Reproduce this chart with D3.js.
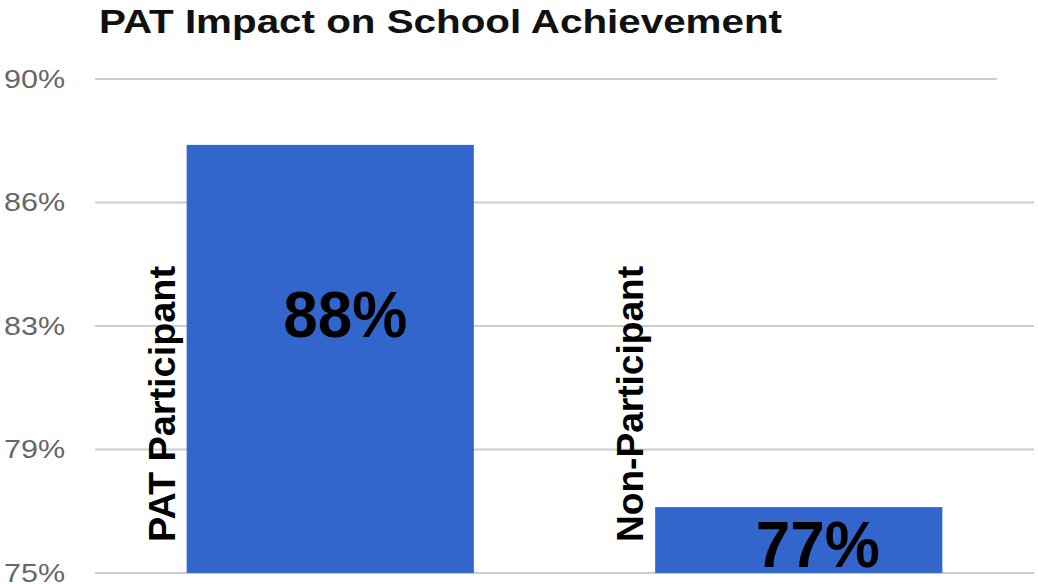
<!DOCTYPE html>
<html>
<head>
<meta charset="utf-8">
<script src="https://cdn.jsdelivr.net/npm/d3@7"></script>
<style>
  html, body { margin: 0; padding: 0; background: #fff; }
  svg { display: block; }
</style>
</head>
<body>
<svg id="chart" width="1038" height="584"></svg>
<script>
// ---- data ----
const categories = ["PAT Participant", "Non-Participant"];
const values = [88, 77];
const valueLabels = ["88%", "77%"];
const tickValues = [75, 78.75, 82.5, 86.25, 90];
const tickLabels = ["75%", "79%", "83%", "86%", "90%"];
const title = "PAT Impact on School Achievement";

// ---- layout ----
const W = 1038, H = 584;
const svg = d3.select("#chart");
const plot = { left: 96, right: 1033, top: 79, bottom: 573 };

const x = d3.scaleBand()
  .domain(categories)
  .range([plot.left, plot.right])
  .paddingInner(0.387)
  .paddingOuter(0.1935);

const y = d3.scaleLinear()
  .domain([75, 90])
  .range([plot.bottom, plot.top]);

// title
svg.append("text")
  .attr("x", 99)
  .attr("y", 33)
  .attr("font-family", "Liberation Sans, Arial, sans-serif")
  .attr("font-weight", "bold")
  .attr("font-size", 33)
  .attr("fill", "#111")
  .attr("textLength", 683)
  .attr("lengthAdjust", "spacingAndGlyphs")
  .text(title);

// gridlines
const grid = svg.append("g");
tickValues.forEach((t, i) => {
  const isTop = i === tickValues.length - 1;
  grid.append("line")
    .attr("x1", plot.left - 1)
    .attr("x2", isTop ? plot.right - 36 : plot.right + 1)
    .attr("y1", y(t))
    .attr("y2", y(t))
    .attr("stroke", "#cccccc")
    .attr("stroke-width", 2);
});

// y axis labels
const yAxis = d3.axisLeft(y)
  .tickValues(tickValues)
  .tickFormat((d, i) => tickLabels[i])
  .tickSize(0)
  .tickPadding(0);
const yg = svg.append("g").attr("transform", "translate(65,0)").call(yAxis);
yg.select(".domain").remove();
yg.selectAll("text")
  .attr("font-family", "Liberation Sans, Arial, sans-serif")
  .attr("font-size", 25)
  .attr("fill", "#666")
  .attr("dy", "0.33em")
  .attr("textLength", 61)
  .attr("lengthAdjust", "spacingAndGlyphs");

// bars
svg.append("g").selectAll("rect")
  .data(values)
  .join("rect")
  .attr("x", (d, i) => x(categories[i]))
  .attr("width", x.bandwidth())
  .attr("y", d => y(d))
  .attr("height", d => y(75) - y(d))
  .attr("fill", "#3366cc");

// category labels (rotated, left of each bar)
svg.append("g").selectAll("text")
  .data(categories)
  .join("text")
  .attr("transform", (d, i) => `translate(${x(d) - 12},${y(75) - 31}) rotate(-90)`)
  .attr("text-anchor", "start")
  .attr("font-family", "Liberation Sans, Arial, sans-serif")
  .attr("font-weight", "bold")
  .attr("font-size", 36)
  .attr("fill", "#000")
  .attr("textLength", 276)
  .attr("lengthAdjust", "spacingAndGlyphs")
  .text(d => d);

// value labels
const valueBaselineDy = [192, 60];
const valueDx = [15, 19];
svg.append("g").selectAll("text")
  .data(values)
  .join("text")
  .attr("x", (d, i) => x(categories[i]) + x.bandwidth() / 2 + valueDx[i])
  .attr("y", (d, i) => y(d) + valueBaselineDy[i])
  .attr("text-anchor", "middle")
  .attr("font-family", "Liberation Sans, Arial, sans-serif")
  .attr("font-weight", "bold")
  .attr("font-size", 64)
  .attr("fill", "#000")
  .attr("textLength", 124)
  .attr("lengthAdjust", "spacingAndGlyphs")
  .text((d, i) => valueLabels[i]);
</script>
</body>
</html>
